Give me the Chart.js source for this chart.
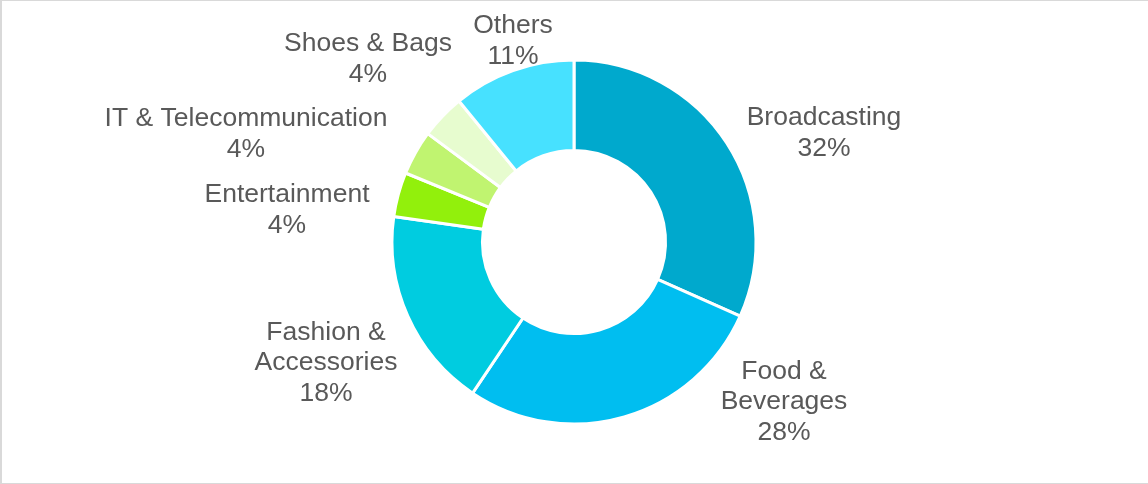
<!DOCTYPE html>
<html>
<head>
<meta charset="utf-8">
<script src="https://cdn.jsdelivr.net/npm/chart.js@4/dist/chart.umd.min.js"></script>
<style>
  html, body { margin: 0; padding: 0; background: #fff; }
  #wrap { position: relative; width: 1148px; height: 484px; }
  #frame {
    position: absolute; inset: 0; pointer-events: none;
    border-left: 2px solid #d9d9d9; border-top: 1px solid #d9d9d9; border-bottom: 1px solid #d9d9d9;
  }
</style>
</head>
<body>
<div id="wrap">
  <canvas id="sectorChart" width="1148" height="484"></canvas>
  <div id="frame"></div>
</div>
<script>
// --- Data ---
const sectors = [
  ['Broadcasting'],
  ['Food &', 'Beverages'],
  ['Fashion &', 'Accessories'],
  ['Entertainment'],
  ['IT & Telecommunication'],
  ['Shoes & Bags'],
  ['Others']
];
const shares = [32, 28, 18, 4, 4, 4, 11];
const sliceColors = ['#00a9cd', '#00bef0', '#00cce0', '#92f00c', '#c0f470', '#e7fccf', '#47e1ff'];

// label block centres, relative to the ring centre
const labelOffsets = [
  [250, -109], [210, 160], [-248, 121], [-287, -32], [-328, -108], [-206, -183], [-61, -201]
];

// --- Outside labels: name lines + percentage ---
const sliceLabels = {
  id: 'sliceLabels',
  afterDatasetsDraw(chart) {
    const ctx = chart.ctx;
    const meta = chart.getDatasetMeta(0);
    const lineH = 30.5;
    ctx.save();
    ctx.font = '26.5px "Liberation Sans", Arial, sans-serif';
    ctx.fillStyle = '#595959';
    ctx.textAlign = 'center';
    ctx.textBaseline = 'middle';
    meta.data.forEach((arc, i) => {
      const lines = sectors[i].concat([shares[i] + '%']);
      const cx = arc.x + labelOffsets[i][0];
      const cy = arc.y + labelOffsets[i][1];
      const top = cy - (lines.length - 1) * lineH / 2;
      lines.forEach((txt, j) => ctx.fillText(txt, cx, top + j * lineH));
    });
    ctx.restore();
  }
};

new Chart(document.getElementById('sectorChart').getContext('2d'), {
  type: 'doughnut',
  data: {
    labels: sectors.map(s => s.join(' ')),
    datasets: [{
      data: shares,
      backgroundColor: sliceColors,
      borderColor: '#ffffff',
      borderWidth: 3
    }]
  },
  options: {
    responsive: false,
    animation: false,
    radius: 182,
    cutout: '50.3%',
    layout: { padding: 0 },
    plugins: {
      legend: { display: false },
      tooltip: { enabled: false }
    }
  },
  plugins: [sliceLabels]
});
</script>
</body>
</html>
